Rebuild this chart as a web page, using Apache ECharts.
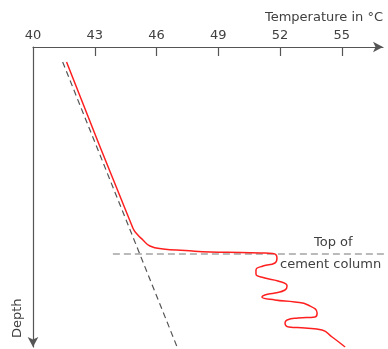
<!DOCTYPE html>
<html>
<head>
<meta charset="utf-8">
<script src="https://cdn.jsdelivr.net/npm/echarts@6/dist/echarts.min.js"></script>
<style>
html,body{margin:0;padding:0;background:#fff;}
#chart{width:388px;height:349px;}
</style>
</head>
<body>
<div id="chart"></div>
<script>
// Data (temperature in °C, depth in arbitrary units increasing downward)
var xTickLabels = [40, 43, 46, 49, 52, 55];
var xTickMarks = [43, 46, 49, 52, 55];

var wellTemp  = [41.63, 44.85, 45.05, 45.34, 45.68, 46.32, 47.39, 48.61, 50.07, 51.05, 51.65, 51.85, 51.75, 51.17, 50.83, 50.83, 51.26, 51.90, 52.34, 52.24, 51.75, 51.26, 51.12, 51.75, 52.72, 53.36, 53.80, 53.70, 52.87, 52.34, 52.24, 52.43, 53.21, 54.04, 54.53, 55.16];
var wellDepth = [15,    181,   187,   193,   199,   202,   203.5, 205,   205.5, 206,   206.5, 211,   216,   219,   223,   227,   231,   234,   239,   243,   246,   248,   250,   253,   255,   258,   266,   270,   271,   273,   276,   280,   281,   283,   290,   300];

var gradientTemp  = [41.44, 47.0];
var gradientDepth = [15, 300];

var cementTemp  = [43.88, 57.3];
var cementDepth = [207, 207];

function zip(a, b) { return a.map(function (v, i) { return [v, b[i]]; }); }

var textColor = '#404040';
var axisColor = '#555';
var fontFamily = 'DejaVu Sans';

var chart = echarts.init(document.getElementById('chart'));
chart.setOption({
  animation: false,
  backgroundColor: '#fff',
  grid: { left: 33, top: 47, right: 5, bottom: 2, containLabel: false },
  xAxis: {
    type: 'value',
    position: 'top',
    min: 40, max: 57, interval: 3,
    axisLine: { show: true, lineStyle: { color: axisColor, width: 1.2 }, symbol: ['none', 'arrow'], symbolSize: [8, 10] },
    axisTick: { show: true, inside: true, length: 9, customValues: xTickMarks, lineStyle: { color: axisColor, width: 1.2 } },
    axisLabel: { show: true, customValues: xTickLabels, margin: 5, color: textColor, fontSize: 13, fontFamily: fontFamily },
    splitLine: { show: false }
  },
  yAxis: {
    type: 'value',
    inverse: true,
    min: 0, max: 300,
    axisLine: { show: true, lineStyle: { color: axisColor, width: 1.2 }, symbol: ['arrow', 'none'], symbolSize: [8, 10] },
    axisTick: { show: false },
    axisLabel: { show: false },
    splitLine: { show: false }
  },
  series: [
    {
      name: 'Geothermal gradient',
      type: 'line',
      data: zip(gradientTemp, gradientDepth),
      showSymbol: false,
      lineStyle: { color: '#555', width: 1.2, type: [6, 4] }
    },
    {
      name: 'Top of cement column',
      type: 'line',
      data: zip(cementTemp, cementDepth),
      showSymbol: false,
      clip: false,
      lineStyle: { color: '#777', width: 1.2, type: [7, 4] }
    },
    {
      name: 'Temperature log',
      type: 'line',
      data: zip(wellTemp, wellDepth),
      showSymbol: false,
      smooth: 0.5,
      lineStyle: { color: '#ff1f1f', width: 1.5 }
    }
  ],
  graphic: [
    { type: 'text', right: 5, top: 11, style: { text: 'Temperature in °C', fill: textColor, font: '13px "DejaVu Sans"' } },
    { type: 'text', left: 314, top: 236, style: { text: 'Top of', fill: textColor, font: '13px "DejaVu Sans"' } },
    { type: 'text', left: 280, top: 258, style: { text: 'cement column', fill: textColor, font: '13px "DejaVu Sans"' } },
    { type: 'text', x: 11, y: 338, rotation: Math.PI / 2, style: { text: 'Depth', fill: textColor, font: '13px "DejaVu Sans"', align: 'left', verticalAlign: 'top' } }
  ]
});
</script>
</body>
</html>
